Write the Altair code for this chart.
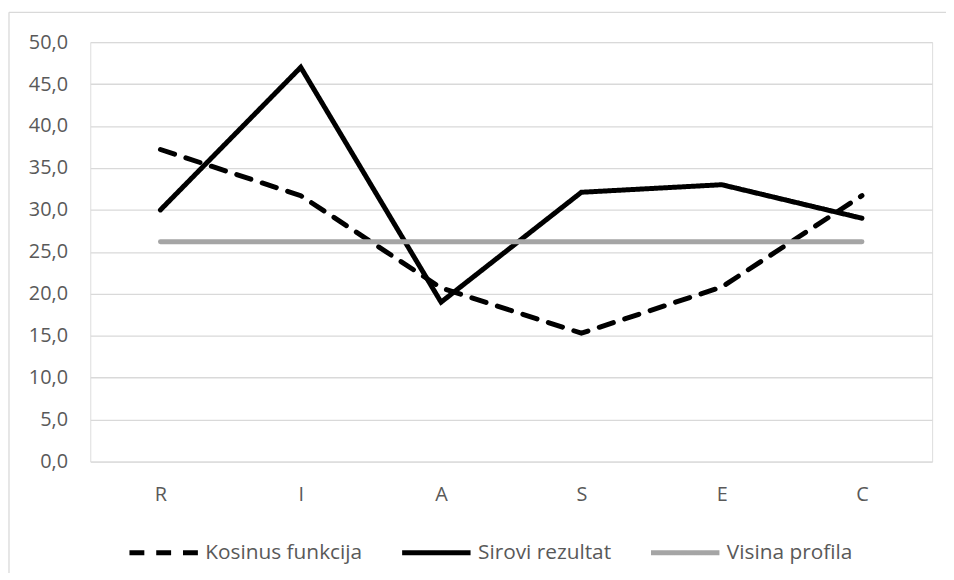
import altair as alt
import pandas as pd

categories = ["R", "I", "A", "S", "E", "C"]
kosinus = [37.2, 31.7, 20.7, 15.3, 20.8, 31.7]
sirovi = [30.0, 47.0, 19.0, 32.1, 33.0, 29.0]
visina = [26.2, 26.2, 26.2, 26.2, 26.2, 26.2]
series_names = ["Kosinus funkcija", "Sirovi rezultat", "Visina profila"]

rows = []
for name, vals in zip(series_names, [kosinus, sirovi, visina]):
    for i, (c, v) in enumerate(zip(categories, vals)):
        rows.append({"series": name, "cat": c, "value": v, "order": i})
df = pd.DataFrame(rows)

FONT = "Open Sans"
TXT = "#595959"
FS = 20

legend = alt.Legend(title=None, orient="none", legendX=37, legendY=478,
                    direction="horizontal", symbolType="stroke", symbolSize=4761,
                    symbolStrokeWidth=5, labelFontSize=21, labelColor=TXT,
                    labelFont=FONT, columnPadding=29, labelOffset=5)

lines = alt.Chart(df).mark_line(strokeWidth=5, strokeCap="round", strokeJoin="miter").encode(
    x=alt.X("cat:N", sort=categories, scale=alt.Scale(type="point", padding=0.5),
            axis=alt.Axis(title=None, labelAngle=0, domain=False, ticks=False, grid=False,
                          labelPadding=23, labelFontSize=FS, labelColor=TXT, labelFont=FONT)),
    y=alt.Y("value:Q", scale=alt.Scale(domain=[0, 50], nice=False, zero=True),
            axis=alt.Axis(title=None, values=list(range(0, 51, 5)), domain=False, ticks=False,
                          labelExpr="replace(format(datum.value, '.1f'), '.', ',')",
                          labelPadding=23, labelFontSize=FS, labelColor=TXT, labelFont=FONT,
                          gridColor="#d9d9d9", gridWidth=1.3)),
    color=alt.Color("series:N", scale=alt.Scale(domain=series_names, range=["#000000", "#000000", "#a5a5a5"]),
                    legend=legend),
    strokeDash=alt.StrokeDash("series:N", scale=alt.Scale(domain=series_names, range=[[15, 12], [1, 0], [1, 0]]),
                              legend=legend),
    order=alt.Order("order:Q"),
)

border_left = alt.Chart(pd.DataFrame({"a": [0]})).mark_rule(color="#d9d9d9", strokeWidth=1.3).encode(
    x=alt.value(-82), y=alt.value(-30), y2=alt.value(650))
border_top = alt.Chart(pd.DataFrame({"a": [0]})).mark_rule(color="#d9d9d9", strokeWidth=1.3).encode(
    x=alt.value(-82), x2=alt.value(900), y=alt.value(-30))

chart = alt.layer(border_left, border_top, lines).properties(
    width=849, height=423,
    autosize=alt.AutoSizeParams(type="none"),
    padding={"left": 83, "top": 32, "right": 14, "bottom": 110},
).configure_view(stroke=None).configure(background="white")

chart.save("out.html", embed_options={"renderer": "svg", "actions": False})
